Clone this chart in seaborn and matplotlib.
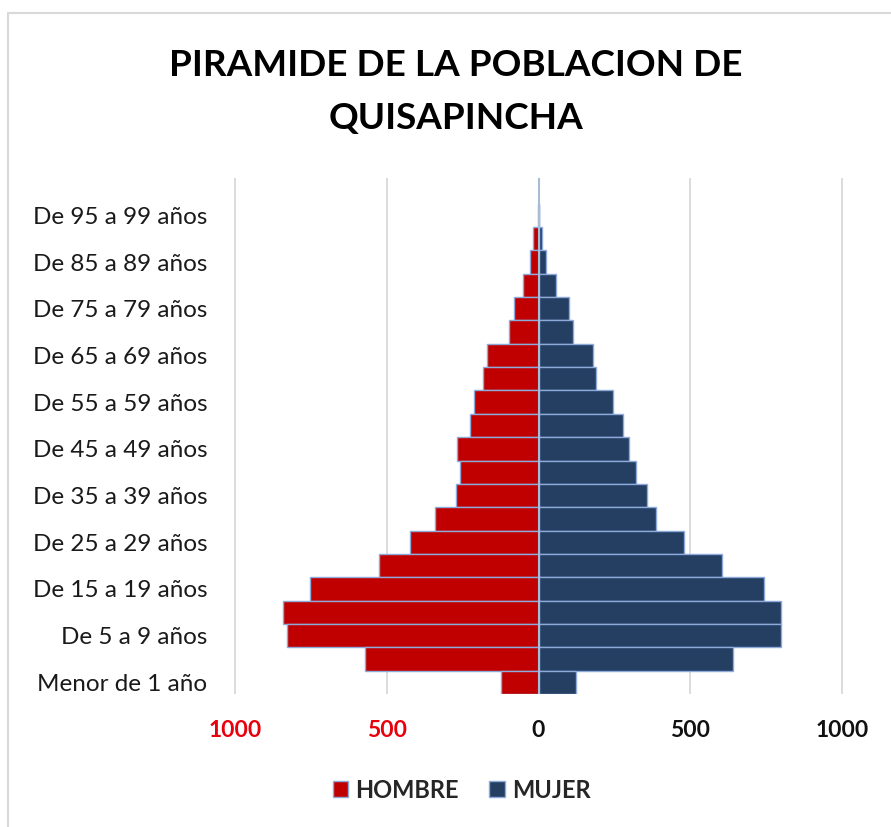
import matplotlib
matplotlib.use("Agg")
import matplotlib.pyplot as plt
import matplotlib.patches as mpatches
import seaborn as sns
import pandas as pd

# ---- data (bottom to top) ----
edades = ["Menor de 1 año", "De 1 a 4 años", "De 5 a 9 años", "De 10 a 14 años",
          "De 15 a 19 años", "De 20 a 24 años", "De 25 a 29 años", "De 30 a 34 años",
          "De 35 a 39 años", "De 40 a 44 años", "De 45 a 49 años", "De 50 a 54 años",
          "De 55 a 59 años", "De 60 a 64 años", "De 65 a 69 años", "De 70 a 74 años",
          "De 75 a 79 años", "De 80 a 84 años", "De 85 a 89 años", "De 90 a 94 años",
          "De 95 a 99 años"]
hombre = [124, 570, 827, 843, 752, 526, 422, 340, 272, 257, 270, 227,
          212, 183, 168, 98, 80, 50, 28, 17, 2]
mujer = [122, 640, 799, 799, 744, 605, 478, 388, 356, 322, 297, 279,
         246, 188, 180, 113, 101, 57, 25, 10, 1]
xticks = [-1000, -500, 0, 500, 1000]
xticklabels = ["1000", "500", "0", "500", "1000"]
series = ["HOMBRE", "MUJER"]

C_H = "#C00000"
C_M = "#243F62"
EDGE = "#8EAADB"

sns.set_theme(style="white")
plt.rcParams["font.family"] = ["Lato", "DejaVu Sans"]

df = pd.DataFrame({"edad": edades, "hombre": hombre, "mujer": mujer})
order = edades[::-1]  # top to bottom

fig = plt.figure(figsize=(8.91, 8.27), dpi=100)
fig.patch.set_facecolor("white")
ax = fig.add_axes([234 / 891, 1 - 694 / 827, (843 - 234) / 891, (694 - 178) / 827])

# grid
for v in [-1000, -500, 500, 1000]:
    ax.axvline(v, color="#D9D9D9", lw=1.3, zorder=0)

sns.barplot(data=df.assign(neg=-df["hombre"]), x="neg", y="edad", order=order,
            orient="h", color=C_H, width=1.0, edgecolor=EDGE, linewidth=1.0,
            saturation=1, ax=ax, zorder=2)
sns.barplot(data=df, x="mujer", y="edad", order=order, orient="h", color=C_M,
            width=1.0, edgecolor=EDGE, linewidth=1.0, saturation=1, ax=ax, zorder=2)

ax.axvline(0, color="#A9BCD6", lw=1.5, zorder=3)

ax.set_xlim(-1003, 1003)
ax.set_ylim(len(order) - 0.5, -1.6)
for s in ax.spines.values():
    s.set_visible(False)
ax.set_xlabel("")
ax.set_ylabel("")

ax.set_xticks(xticks)
ax.set_xticklabels(xticklabels, fontsize=16.5, fontweight="bold")
for lbl, c in zip(ax.get_xticklabels(), ["#E8000B", "#E8000B", "#111111", "#111111", "#111111"]):
    lbl.set_color(c)
ax.tick_params(axis="x", length=0, pad=19)

ylabels = [lab if (len(order) - 1 - i) % 2 == 0 else "" for i, lab in enumerate(order)]
ax.set_yticks(range(len(order)))
ax.set_yticklabels(ylabels, fontsize=17.5, color="#1A1A1A")
ax.tick_params(axis="y", length=0, pad=19)

fig.text(0.512, 1 - 92 / 827, "PIRAMIDE DE LA POBLACION DE\nQUISAPINCHA",
         ha="center", va="center", fontsize=26.6, fontweight="bold",
         color="#000000", linespacing=1.75)

handles = [mpatches.Patch(facecolor=C_H, edgecolor=EDGE, label=series[0]),
           mpatches.Patch(facecolor=C_M, edgecolor=EDGE, label=series[1])]
fig.legend(handles=handles, loc="center", bbox_to_anchor=(0.518, 1 - 790 / 827),
           ncol=2, frameon=False, handlelength=0.65, handleheight=0.65,
           handletextpad=0.3, columnspacing=1.3,
           prop={"family": ["Lato", "DejaVu Sans"], "weight": "bold", "size": 17})

# chart-area border (left/top visible)
fig.patches.append(mpatches.Rectangle((8 / 891, -0.05), 1.1, 1 - 13 / 827 + 0.05,
                                      transform=fig.transFigure, fill=False,
                                      edgecolor="#D9D9D9", lw=1.5))

fig.savefig("out.png", dpi=100, facecolor="white")
